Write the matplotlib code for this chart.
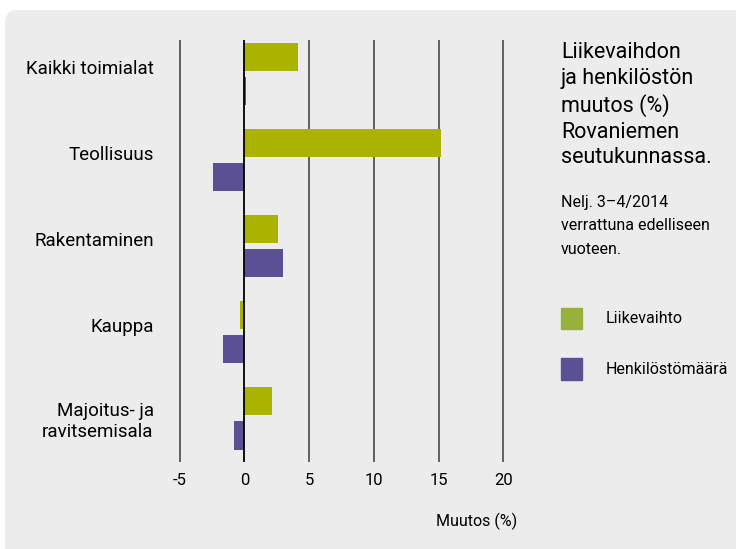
import numpy as np
import matplotlib.pyplot as plt
from matplotlib.patches import FancyBboxPatch
from matplotlib import font_manager

# Muutos (%) toimialoittain, nelj. 3-4/2014 vs. edellinen vuosi
toimialat = ['Kaikki toimialat', 'Teollisuus', 'Rakentaminen', 'Kauppa',
             'Majoitus- ja\nravitsemisala']
liikevaihto = [4.1, 15.2, 2.6, -0.35, 2.1]
henkilosto = [0.1, -2.4, 3.0, -1.65, -0.8]
ticks = [-5, 0, 5, 10, 15, 20]

GREEN = '#aab400'
PURPLE = '#5b5094'
PANEL = '#ececec'

names = {f.name for f in font_manager.fontManager.ttflist}
fam = 'Liberation Sans Narrow' if 'Liberation Sans Narrow' in names else 'Roboto'
plt.rcParams['font.family'] = [fam, 'DejaVu Sans']

fig = plt.figure(figsize=(7.36, 5.49), dpi=100)
fig.patch.set_facecolor('white')

# harmaa tausta pyöristetyin kulmin
panel = FancyBboxPatch((0.05, -0.3), 7.6, 5.69,
                       boxstyle='round,pad=0,rounding_size=0.13',
                       transform=fig.dpi_scale_trans, facecolor=PANEL,
                       edgecolor='none', zorder=-5)
fig.patches.append(panel)

ax = fig.add_axes([0.239, 0.1585, 0.450, 0.7687])
ax.set_facecolor('none')
y = np.arange(len(toimialat))
h = 0.33
ax.barh(y - 0.2, liikevaihto, height=h, color=GREEN, zorder=3)
ax.barh(y + 0.2, henkilosto, height=h, color=PURPLE, zorder=3)

for t in ticks:
    ax.axvline(t, color='black' if t == 0 else '#3a3a3a',
               lw=1.3 if t == 0 else 1.1, zorder=2 if t else 4)

ax.set_xlim(-5.3, 20.3)
ax.set_ylim(4.51, -0.395)
for s in ax.spines.values():
    s.set_visible(False)
ax.set_xticks(ticks)
ax.set_xticklabels([str(t) for t in ticks], fontsize=12)
ax.tick_params(axis='x', length=0, pad=8)
# yksirivisten nimien paikka hieman ryhmän keskikohdan yläpuolella
ax.set_yticks(y - np.array([0.08, 0.08, 0.08, 0.08, 0.0]))
ax.set_yticklabels(toimialat, fontsize=13.5, linespacing=1.2)
ax.tick_params(axis='y', length=0, pad=16)
ax.set_xlabel('Muutos (%)', fontsize=11.5, loc='right', labelpad=18)
ax.xaxis.label.set_x(1.03)

# otsikko ja selitteet oikealla
fig.text(0.762, 0.924, 'Liikevaihdon\nja henkilöstön\nmuutos (%)\nRovaniemen\nseutukunnassa.',
         fontsize=15.5, va='top', ha='left', linespacing=1.3)
fig.text(0.762, 0.645, 'Nelj. 3–4/2014\nverrattuna edelliseen\nvuoteen.',
         fontsize=11.5, va='top', ha='left', linespacing=1.7)

for yy, col, lab in [(0.419, '#98b03c', 'Liikevaihto'),
                     (0.327, '#5a5094', 'Henkilöstömäärä')]:
    fig.patches.append(plt.Rectangle((0.762, yy - 0.019), 0.029, 0.039,
                                     transform=fig.transFigure, color=col))
    fig.text(0.823, yy, lab, fontsize=11.5, va='center', ha='left')

fig.savefig('out.png', dpi=100, facecolor='white')
